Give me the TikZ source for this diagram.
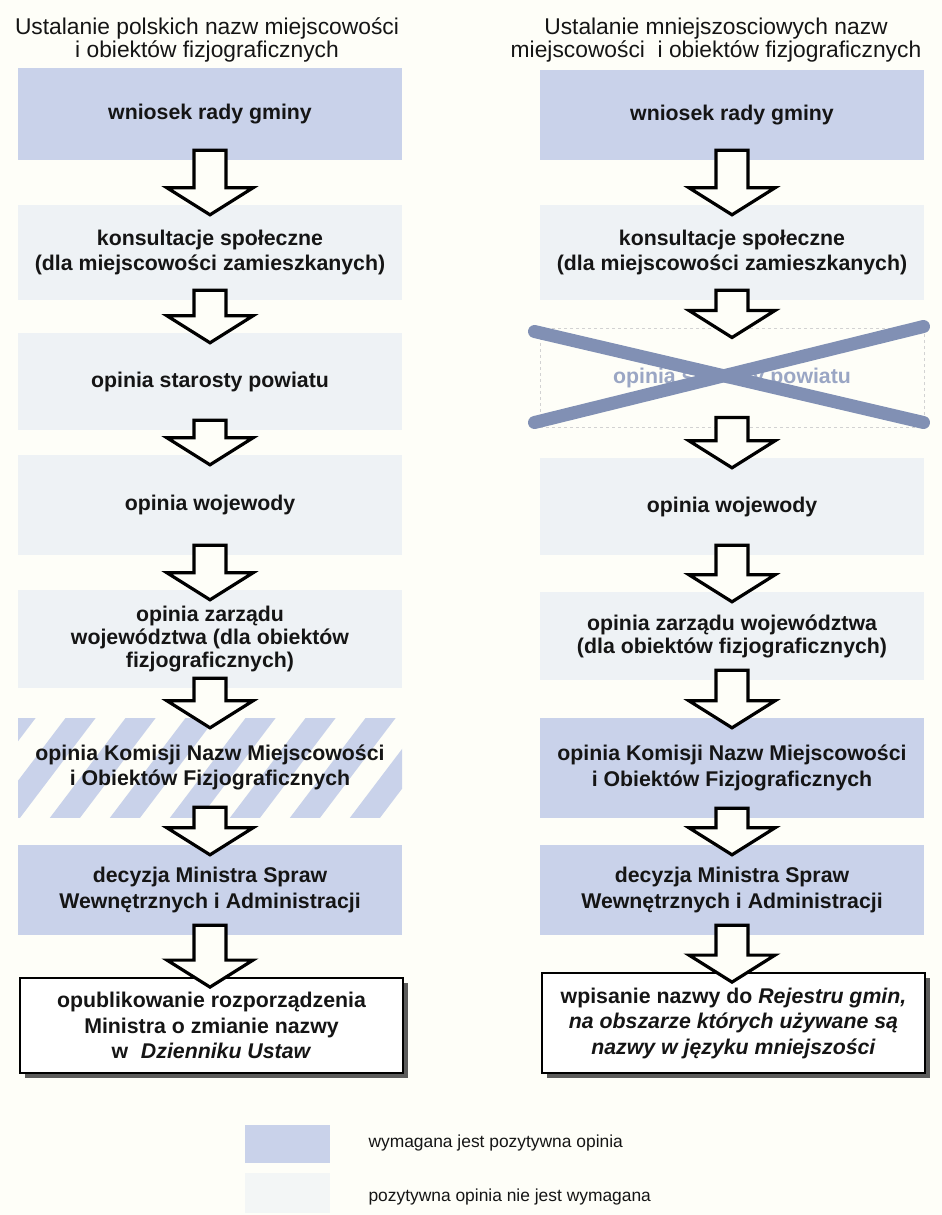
\documentclass[tikz,border=0pt]{standalone}
\usepackage{fontspec}
\setmainfont{Liberation Sans}
\usetikzlibrary{calc,shadows}
\definecolor{bgc}{HTML}{FEFEF8}
\definecolor{blueb}{HTML}{C9D2EA}
\definecolor{paleb}{HTML}{EEF2F5}
\definecolor{xcol}{HTML}{8190B4}
\definecolor{txtc}{HTML}{151515}
\definecolor{ghost}{HTML}{9AA6C4}
\tikzset{
  x=1pt, y=-1pt,
  box/.style={minimum width=384pt, inner sep=0pt, align=center, text=txtc,
    font=\bfseries\fontsize{21.3}{25.5}\selectfont},
  bluebox/.style={box, fill=blueb},
  palebox/.style={box, fill=paleb},
  stripebox/.style={box, path picture={
      \foreach \k in {-3,...,7}{
        \draw[blueb, line width=24pt]
          ($(path picture bounding box.south west)+(\k*60-20,10)$) -- ++(100,-132);
      }}},
  ghostbox/.style={box, text=ghost, draw=gray!35, dash pattern=on 3pt off 3pt, line width=1pt},
  whitebox/.style={box, fill=white, draw=black, line width=1.8pt,
    drop shadow={shadow xshift=5pt, shadow yshift=-5pt, fill=black!75, opacity=0.85}},
  titlenode/.style={align=center, text=txtc, font=\fontsize{22.8}{22.5}\selectfont},
  blockarr/.style={draw=black, fill=bgc, line width=3.2pt, line join=miter},
  xline/.style={xcol, line width=13pt, line cap=round},
  swatch/.style={minimum width=85pt, inner sep=0pt},
  legtext/.style={anchor=west, text=txtc, font=\fontsize{17.4}{20}\selectfont}
}
\newcommand\blockarrow[2]{%
  \draw[blockarr] let \p1=($(#1.south)+(0,-10)$), \p2=($(#2.north)+(0,10)$) in
    (\x1-16pt,\y1) -- (\x1+16pt,\y1) -- (\x1+16pt,\y2+27pt) -- (\x1+43pt,\y2+27pt)
    -- (\x1,\y2) -- (\x1-43pt,\y2+27pt) -- (\x1-16pt,\y2+27pt) -- cycle;}
\begin{document}
\begin{tikzpicture}
\fill[bgc] (0,0) rectangle (942,1215);
\useasboundingbox (0,0) rectangle (942,1215);

% titles
\node[titlenode] (tl) at (207,40) {Ustalanie polskich nazw miejscowości\\i obiektów fizjograficznych};
\node[titlenode] (tr) at (716,40) {Ustalanie mniejszosciowych nazw\\miejscowości\ \ i obiektów fizjograficznych};

% left column
\node[bluebox, minimum height=92pt] (l1) at (210,114) {wniosek rady gminy};
\node[palebox, minimum height=95pt] (l2) at (210,252.5) {konsultacje społeczne\\(dla miejscowości zamieszkanych)};
\node[palebox, minimum height=97pt] (l3) at (210,381.5) {opinia starosty powiatu};
\node[palebox, minimum height=100pt] (l4) at (210,505) {opinia wojewody};
\node[palebox, minimum height=98pt, font=\bfseries\fontsize{21.3}{23}\selectfont] (l5) at (210,639) {opinia zarządu\\województwa (dla obiektów\\fizjograficznych)};
\node[stripebox, minimum height=99pt] (l6) at (210,767.5) {opinia Komisji Nazw Miejscowości\\i Obiektów Fizjograficznych};
\node[bluebox, minimum height=90pt] (l7) at (210,890) {decyzja Ministra Spraw\\Wewnętrznych i Administracji};
\node[whitebox, minimum width=383pt, minimum height=95pt] (l8) at (211.5,1025.5) {opublikowanie rozporządzenia\\Ministra o zmianie nazwy\\w\hspace{0.6em}\textit{Dzienniku Ustaw}};

% right column
\node[bluebox, minimum height=90pt] (r1) at (732,115) {wniosek rady gminy};
\node[palebox, minimum height=95pt] (r2) at (732,252.5) {konsultacje społeczne\\(dla miejscowości zamieszkanych)};
\node[ghostbox, minimum height=99pt] (r3) at (732,377.5) {opinia starosty powiatu};
\node[palebox, minimum height=97pt] (r4) at (732,506.5) {opinia wojewody};
\node[palebox, minimum height=88pt, font=\bfseries\fontsize{21.3}{23}\selectfont] (r5) at (732,636) {opinia zarządu województwa\\(dla obiektów fizjograficznych)};
\node[bluebox, minimum height=100pt] (r6) at (732,768) {opinia Komisji Nazw Miejscowości\\i Obiektów Fizjograficznych};
\node[bluebox, minimum height=90pt] (r7) at (732,890) {decyzja Ministra Spraw\\Wewnętrznych i Administracji};
\node[whitebox, minimum width=383pt, minimum height=100pt] (r8) at (733.5,1023) {wpisanie nazwy do \textit{Rejestru gmin,}\\\textit{na obszarze których używane są}\\\textit{nazwy w języku mniejszości}};

% arrows
\blockarrow{l1}{l2}
\blockarrow{l2}{l3}
\blockarrow{l3}{l4}
\blockarrow{l4}{l5}
\blockarrow{l5}{l6}
\blockarrow{l6}{l7}
\blockarrow{l7}{l8}
\blockarrow{r1}{r2}
\blockarrow{r2}{r3}
\blockarrow{r3}{r4}
\blockarrow{r4}{r5}
\blockarrow{r5}{r6}
\blockarrow{r6}{r7}
\blockarrow{r7}{r8}

% cross over the omitted step
\draw[xline] ($(r3.north west)+(-5,4)$) -- ($(r3.south east)+(-1,-5)$);
\draw[xline] ($(r3.south west)+(-5,-5)$) -- ($(r3.north east)+(-1,-1)$);

% legend
\node[swatch, fill=blueb, minimum height=38pt] (s1) at (287.5,1144) {};
\node[swatch, fill=paleb!70!bgc, minimum height=40pt] (s2) at (287.5,1193) {};
\node[legtext] (t1) at (365,1143) {wymagana jest pozytywna opinia};
\node[legtext] (t2) at (365,1197) {pozytywna opinia nie jest wymagana};
\end{tikzpicture}
\end{document}
